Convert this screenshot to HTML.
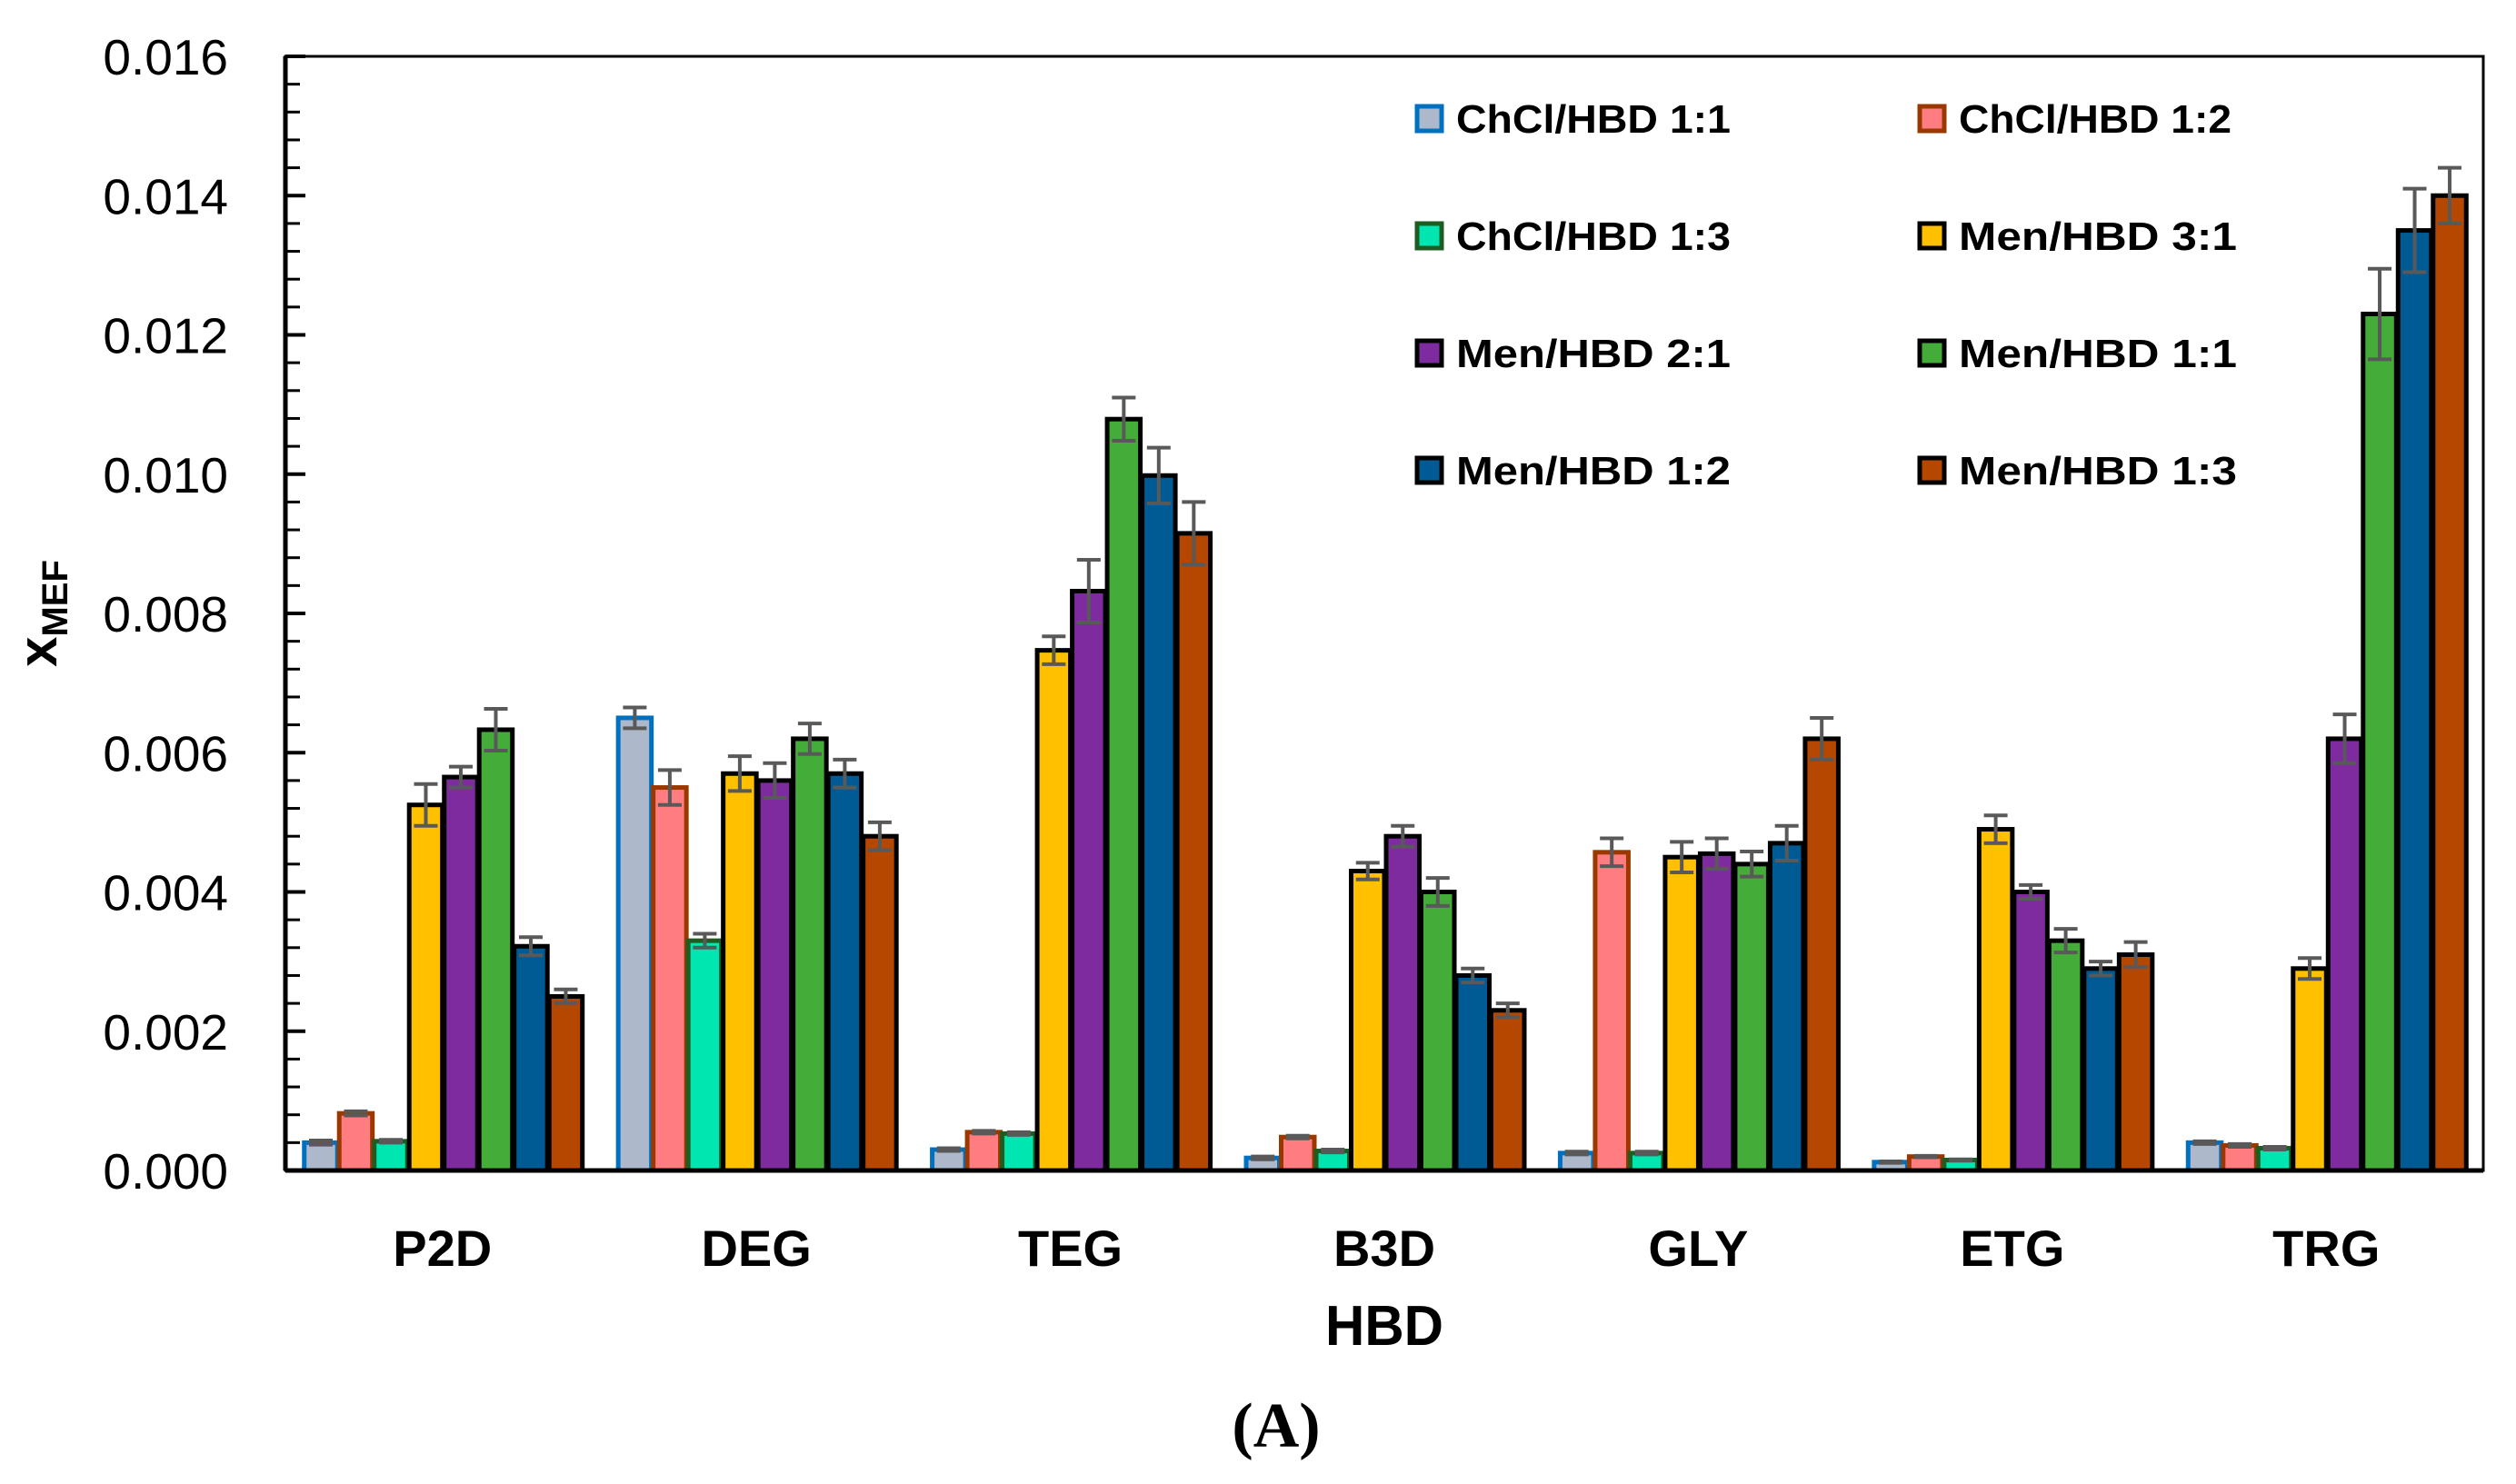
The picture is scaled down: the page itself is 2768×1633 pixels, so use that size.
<!DOCTYPE html>
<html><head><meta charset="utf-8"><style>
html,body{margin:0;padding:0;background:#fff;}
svg{display:block;}
text{font-family:"Liberation Sans",sans-serif;}
</style></head><body>
<svg id="chart" width="2768" height="1633" viewBox="0 0 2768 1633" xmlns="http://www.w3.org/2000/svg">
<g id="bars"></g>
<g id="axes"></g>
<g id="legend"></g>
<text x="62" y="675" transform="rotate(-90 62 675)" text-anchor="middle" font-size="60" font-weight="bold">x<tspan font-size="40" dy="12">MEF</tspan></text>
<text x="1523" y="1480" text-anchor="middle" font-size="62" font-weight="bold" textLength="130" lengthAdjust="spacingAndGlyphs">HBD</text>
<text x="1404" y="1592" text-anchor="middle" font-size="70" font-weight="bold" style="font-family:'Liberation Serif',serif">(A)</text>
</svg>
<script>
const categories = ["P2D","DEG","TEG","B3D","GLY","ETG","TRG"];
const seriesNames = ["ChCl/HBD 1:1","ChCl/HBD 1:2","ChCl/HBD 1:3","Men/HBD 3:1","Men/HBD 2:1","Men/HBD 1:1","Men/HBD 1:2","Men/HBD 1:3"];
const s0 = [0.0004,0.0065,0.0003,0.00018,0.00025,0.00012,0.0004];
const s1 = [0.00082,0.0055,0.00055,0.00048,0.00457,0.0002,0.00036];
const s2 = [0.00042,0.0033,0.00053,0.00028,0.00025,0.00015,0.00032];
const s3 = [0.00525,0.0057,0.00747,0.0043,0.0045,0.0049,0.0029];
const s4 = [0.00565,0.0056,0.00832,0.0048,0.00455,0.0040,0.0062];
const s5 = [0.00633,0.0062,0.01079,0.0040,0.0044,0.0033,0.0123];
const s6 = [0.00322,0.0057,0.00998,0.0028,0.0047,0.0029,0.0135];
const s7 = [0.0025,0.0048,0.00915,0.0023,0.0062,0.0031,0.0140];
const e0 = [0.00003,0.00015,0.00002,0.00002,0.00002,0.00001,0.00002];
const e1 = [0.00003,0.00025,0.00002,0.00002,0.0002,0.00001,0.00002];
const e2 = [0.00002,0.0001,0.00002,0.00002,0.00002,0.00001,0.00002];
const e3 = [0.0003,0.00025,0.0002,0.00012,0.00022,0.0002,0.00015];
const e4 = [0.00015,0.00025,0.00045,0.00015,0.00022,0.0001,0.00035];
const e5 = [0.0003,0.00022,0.00031,0.0002,0.00018,0.00017,0.00065];
const e6 = [0.00013,0.0002,0.0004,0.0001,0.00025,0.0001,0.0006];
const e7 = [0.0001,0.0002,0.00045,0.0001,0.0003,0.00018,0.0004];
const yTicks = ["0.000","0.002","0.004","0.006","0.008","0.010","0.012","0.014","0.016"];
const fills = ["#adb9ca","#ff7c80","#00e6b0","#ffc000","#7f2ba0","#44ad3a","#005b94","#b54700"];
const strokes = ["#0070c0","#9a3800","#1e5c22","#000","#000","#000","#000","#000"];

const series=[s0,s1,s2,s3,s4,s5,s6,s7], errs=[e0,e1,e2,e3,e4,e5,e6,e7];
const NS="http://www.w3.org/2000/svg";
const L=314,R=2732,T=62,B=1288,YMAX=0.016;
const y=v=>B-(v/YMAX)*(B-T);
const gw=(R-L)/categories.length, bw=38.5;
const x=(g,s)=>L+gw*(g+0.5)-bw*4+bw*s;
function mk(tag,attrs,parent){const e=document.createElementNS(NS,tag);for(const k in attrs)e.setAttribute(k,attrs[k]);parent.appendChild(e);return e;}
const bars=document.getElementById('bars'),axes=document.getElementById('axes'),leg=document.getElementById('legend');
series.forEach((sv,s)=>{sv.forEach((v,g)=>{
  const r=mk('rect',{x:x(g,s)+2,y:y(v),width:bw-2,height:B-y(v),fill:fills[s],stroke:strokes[s],'stroke-width':5},bars);
  
  
  const cx=x(g,s)+bw/2+1,e=errs[s][g];
  const eb=mk('path',{d:`M${cx},${y(v+e)}V${y(v-e)}M${cx-13},${y(v+e)}H${cx+13}M${cx-13},${y(v-e)}H${cx+13}`,stroke:'#595959','stroke-width':4,fill:'none'},bars);
  
  
});});
const fr=mk('rect',{x:L,y:T,width:R-L,height:B-T,fill:'none',stroke:'#000','stroke-width':3},axes);


const xa=mk('line',{x1:L,x2:R,y1:B,y2:B,stroke:'#000','stroke-width':5},axes);


const ya=mk('line',{x1:L,x2:L,y1:T,y2:B,stroke:'#000','stroke-width':5},axes);


for(let i=0;i<=40;i++){const v=i*0.0004;const maj=i%5===0;
  mk('line',{x1:L,x2:L+(maj?22:16),y1:y(v),y2:y(v),stroke:'#000','stroke-width':maj?4:3},axes);}
yTicks.forEach(t=>{const tx=mk('text',{x:251,y:y(parseFloat(t))+20,'text-anchor':'end','font-size':55},axes);tx.textContent=t;
  
  });
categories.forEach((c,g)=>{const tx=mk('text',{x:L+gw*(g+0.5),y:1393,'text-anchor':'middle','font-size':56,'font-weight':'bold'},axes);tx.textContent=c;
  
  });
seriesNames.forEach((n,s)=>{const col=s%2,row=Math.floor(s/2);
  const bx=col?2109:1556,cy=130+row*129;
  const g=mk('g',{},leg);
  
  
  mk('rect',{x:bx+3,y:cy-13,width:27,height:27,fill:fills[s],stroke:strokes[s],'stroke-width':5},g);
  const tx=mk('text',{x:bx+46,y:cy+16,'font-size':44,'font-weight':'bold',textLength:n.startsWith('Men')?(s%2?306:302):(s%2?300:302),lengthAdjust:'spacingAndGlyphs'},g);tx.textContent=n;
});
</script>
</body></html>
